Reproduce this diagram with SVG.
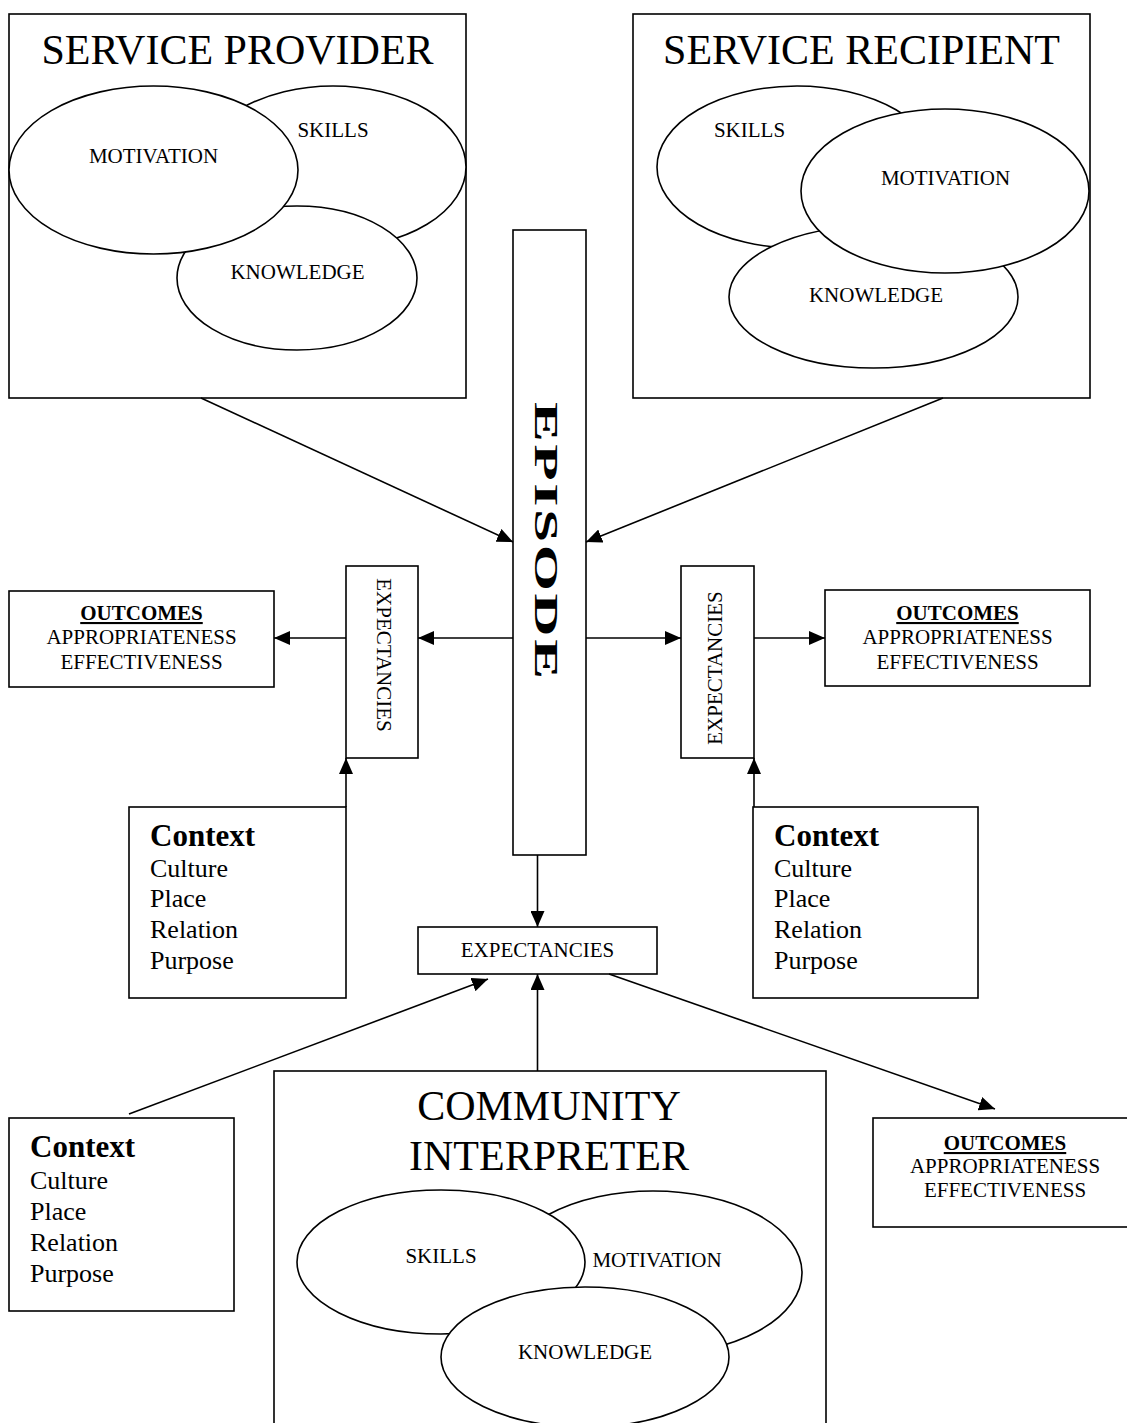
<svg xmlns="http://www.w3.org/2000/svg" width="1127" height="1423" viewBox="0 0 1127 1423">
<style>
.box{fill:#fff;stroke:#000;stroke-width:1.6}
.ell{fill:#fff;stroke:#000;stroke-width:1.6}
.t{font-family:"Liberation Serif","Times New Roman",serif;fill:#000}
.title{font-size:42px;text-anchor:middle}
.lbl{font-size:21px;text-anchor:middle}
.ob{font-size:21px;font-weight:bold;text-anchor:middle;text-decoration:underline}
.ch{font-size:31px;font-weight:bold}
.ci{font-size:26px}
.con{stroke:#000;stroke-width:1.6;fill:none;marker-end:url(#ah)}
</style>
<defs>
<marker id="ah" markerUnits="userSpaceOnUse" markerWidth="16" markerHeight="14" refX="16" refY="7" orient="auto">
<path d="M0,0 L16,7 L0,14 z" fill="#000"/>
</marker>
</defs>
<rect width="1127" height="1423" fill="#fff"/>

<g id="service-provider">
<rect class="box" x="9" y="14" width="457" height="384"/>
<text class="t title" x="237.5" y="64">SERVICE PROVIDER</text>
<ellipse class="ell" cx="333" cy="167" rx="133" ry="81"/>
<ellipse class="ell" cx="297" cy="278" rx="120" ry="72"/>
<ellipse class="ell" cx="153.5" cy="170" rx="144.5" ry="84"/>
<text class="t lbl" x="153.5" y="163">MOTIVATION</text>
<text class="t lbl" x="333" y="137">SKILLS</text>
<text class="t lbl" x="297.5" y="279">KNOWLEDGE</text>
</g>

<g id="service-recipient">
<rect class="box" x="633" y="14" width="457" height="384"/>
<text class="t title" x="861.5" y="64">SERVICE RECIPIENT</text>
<ellipse class="ell" cx="797" cy="167" rx="140" ry="81"/>
<ellipse class="ell" cx="873.5" cy="297" rx="144.5" ry="71"/>
<ellipse class="ell" cx="945" cy="191" rx="144" ry="82"/>
<text class="t lbl" x="749.5" y="137">SKILLS</text>
<text class="t lbl" x="945.5" y="185">MOTIVATION</text>
<text class="t lbl" x="876" y="302">KNOWLEDGE</text>
</g>

<g id="episode">
<rect class="box" x="513" y="230" width="73" height="625"/>
<text class="t" font-size="34" font-weight="bold" letter-spacing="1.5" transform="translate(535,402) rotate(90) scale(1.75,1)" x="0" y="0">EPISODE</text>
</g>

<g id="expectancies-left">
<rect class="box" x="346" y="566" width="72" height="192"/>
<text class="t lbl" transform="translate(377,655) rotate(90)" x="0" y="0">EXPECTANCIES</text>
</g>

<g id="expectancies-right">
<rect class="box" x="681" y="566" width="73" height="192"/>
<text class="t lbl" transform="translate(722,668) rotate(-90)" x="0" y="0">EXPECTANCIES</text>
</g>

<g id="expectancies-bottom">
<rect class="box" x="418" y="927" width="239" height="47"/>
<text class="t lbl" x="537.5" y="957">EXPECTANCIES</text>
</g>

<g id="outcomes-left">
<rect class="box" x="9" y="591" width="265" height="96"/>
<text class="t ob" x="141.5" y="620">OUTCOMES</text>
<text class="t lbl" x="141.5" y="644">APPROPRIATENESS</text>
<text class="t lbl" x="141.5" y="669">EFFECTIVENESS</text>
</g>

<g id="outcomes-right">
<rect class="box" x="825" y="590" width="265" height="96"/>
<text class="t ob" x="957.5" y="620">OUTCOMES</text>
<text class="t lbl" x="957.5" y="644">APPROPRIATENESS</text>
<text class="t lbl" x="957.5" y="669">EFFECTIVENESS</text>
</g>

<g id="outcomes-bottom">
<rect class="box" x="873" y="1118" width="270" height="109"/>
<text class="t ob" x="1005" y="1150">OUTCOMES</text>
<text class="t lbl" x="1005" y="1173">APPROPRIATENESS</text>
<text class="t lbl" x="1005" y="1197">EFFECTIVENESS</text>
</g>

<g id="context-left">
<rect class="box" x="129" y="807" width="217" height="191"/>
<text class="t ch" x="150" y="846">Context</text>
<text class="t ci" x="150" y="877">Culture</text>
<text class="t ci" x="150" y="907">Place</text>
<text class="t ci" x="150" y="938">Relation</text>
<text class="t ci" x="150" y="969">Purpose</text>
</g>

<g id="context-right">
<rect class="box" x="753" y="807" width="225" height="191"/>
<text class="t ch" x="774" y="846">Context</text>
<text class="t ci" x="774" y="877">Culture</text>
<text class="t ci" x="774" y="907">Place</text>
<text class="t ci" x="774" y="938">Relation</text>
<text class="t ci" x="774" y="969">Purpose</text>
</g>

<g id="context-bottom">
<rect class="box" x="9" y="1118" width="225" height="193"/>
<text class="t ch" x="30" y="1157">Context</text>
<text class="t ci" x="30" y="1189">Culture</text>
<text class="t ci" x="30" y="1220">Place</text>
<text class="t ci" x="30" y="1251">Relation</text>
<text class="t ci" x="30" y="1282">Purpose</text>
</g>

<g id="community-interpreter">
<rect class="box" x="274" y="1071" width="552" height="380"/>
<text class="t title" x="549" y="1120">COMMUNITY</text>
<text class="t title" x="549" y="1170">INTERPRETER</text>
<ellipse class="ell" cx="653" cy="1273" rx="149" ry="82"/>
<ellipse class="ell" cx="441" cy="1262" rx="144" ry="72"/>
<ellipse class="ell" cx="585" cy="1357" rx="144" ry="70"/>
<text class="t lbl" x="441" y="1263">SKILLS</text>
<text class="t lbl" x="657" y="1267">MOTIVATION</text>
<text class="t lbl" x="585" y="1359">KNOWLEDGE</text>
</g>

<g id="connectors">
<line class="con" x1="201" y1="398" x2="513" y2="542"/>
<line class="con" x1="943" y1="398" x2="586" y2="542"/>
<line class="con" x1="513" y1="638" x2="418" y2="638"/>
<line class="con" x1="346" y1="638" x2="274" y2="638"/>
<line class="con" x1="586" y1="638" x2="681" y2="638"/>
<line class="con" x1="754" y1="638" x2="825" y2="638"/>
<line class="con" x1="346" y1="807" x2="346" y2="758"/>
<line class="con" x1="754" y1="807" x2="754" y2="758"/>
<line class="con" x1="537.5" y1="855" x2="537.5" y2="927"/>
<line class="con" x1="537.5" y1="1071" x2="537.5" y2="974"/>
<line class="con" x1="129" y1="1114" x2="488" y2="979"/>
<line class="con" x1="609" y1="974" x2="995" y2="1109"/>
</g>
</svg>
